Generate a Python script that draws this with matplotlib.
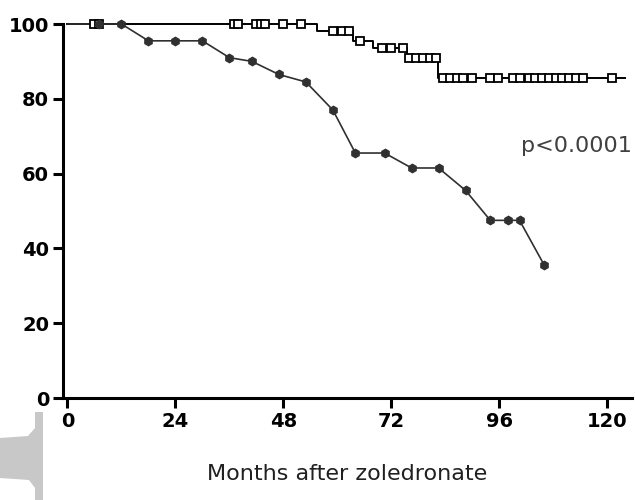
import matplotlib
matplotlib.use("Agg")
from matplotlib import pyplot as plt
from matplotlib.patches import Polygon

plt.rcParams['font.family'] = ['DejaVu Sans']

# upper curve: survival steps (time, level) and censored times
up_steps_t = [0, 55.5, 63.5, 68, 75.5, 82.3, 124]
up_steps_v = [100, 98, 95.5, 93.5, 91, 85.5, 85.5]
up_cens_t = [6, 7, 37, 38, 42, 43, 44, 48, 52,
             59, 61, 62.5,
             65,
             70, 72, 74.5,
             76, 77.5, 79, 80.5, 82,
             83.5, 85, 86.5, 88, 90, 94, 95.8, 99, 100.5, 102.5,
             104, 105.5, 107, 108.5, 110, 111.5, 113, 114.5, 121]

# lower curve: points joined by straight lines
lo_t = [0, 7, 12, 18, 24, 30, 36, 41, 47, 53, 59, 64, 70.5, 76.5, 82.5, 88.5, 94, 98, 100.5, 106]
lo_v = [100, 100, 100, 95.5, 95.5, 95.5, 91, 90, 86.5, 84.5, 77, 65.5, 65.5, 61.5, 61.5, 55.5, 47.5, 47.5, 47.5, 35.5]

xticks = [0, 24, 48, 72, 96, 120]
yticks = [0, 20, 40, 60, 80, 100]


def level_at(t):
    lv = up_steps_v[0]
    for st, sv in zip(up_steps_t, up_steps_v):
        if t >= st:
            lv = sv
    return lv


fig = plt.figure(figsize=(6.35, 5.0), dpi=100)
ax = fig.add_axes([63 / 635, 1 - 398 / 500, (632 - 63) / 635, (398 - 24) / 500])

ax.step(up_steps_t, up_steps_v, where='post', color='black', lw=1.4, zorder=2, clip_on=False)
ax.plot(up_cens_t, [level_at(t) for t in up_cens_t], ls='none', marker='s', ms=6,
        mfc='white', mec='black', mew=1.3, zorder=3, clip_on=False)

ax.plot(lo_t, lo_v, color='#303030', lw=1.2, zorder=2, clip_on=False)
ax.plot(lo_t[1:], lo_v[1:], ls='none', marker='h', ms=6, color='#303030', zorder=3, clip_on=False)

ax.set_xlim(-1, 125.5)
ax.set_ylim(0, 100)
ax.set_xticks(xticks)
ax.set_yticks(yticks)
for s in ['top', 'right']:
    ax.spines[s].set_visible(False)
for s in ['left', 'bottom']:
    ax.spines[s].set_linewidth(2.2)
ax.tick_params(width=2.2, length=7, labelsize=14, pad=3)
for lab in ax.get_xticklabels() + ax.get_yticklabels():
    lab.set_fontweight('bold')

ax.set_xlabel('Months after zoledronate', fontsize=16, labelpad=24, color='#202020')
ax.text(125.5, 67.5, 'p<0.0001', fontsize=16, color='#404040', ha='right', va='center')

# grey cut-off shape at bottom-left of the source picture
pts = [(35, 412), (43, 412), (43, 500), (35, 500), (35, 488), (29, 480), (0, 478),
       (0, 438), (28, 436), (35, 428)]
fig.patches.append(Polygon([(x / 635, 1 - y / 500) for x, y in pts],
                           closed=True, transform=fig.transFigure,
                           facecolor='#c8c8c8', edgecolor='none'))

fig.savefig('out.png', dpi=100)
